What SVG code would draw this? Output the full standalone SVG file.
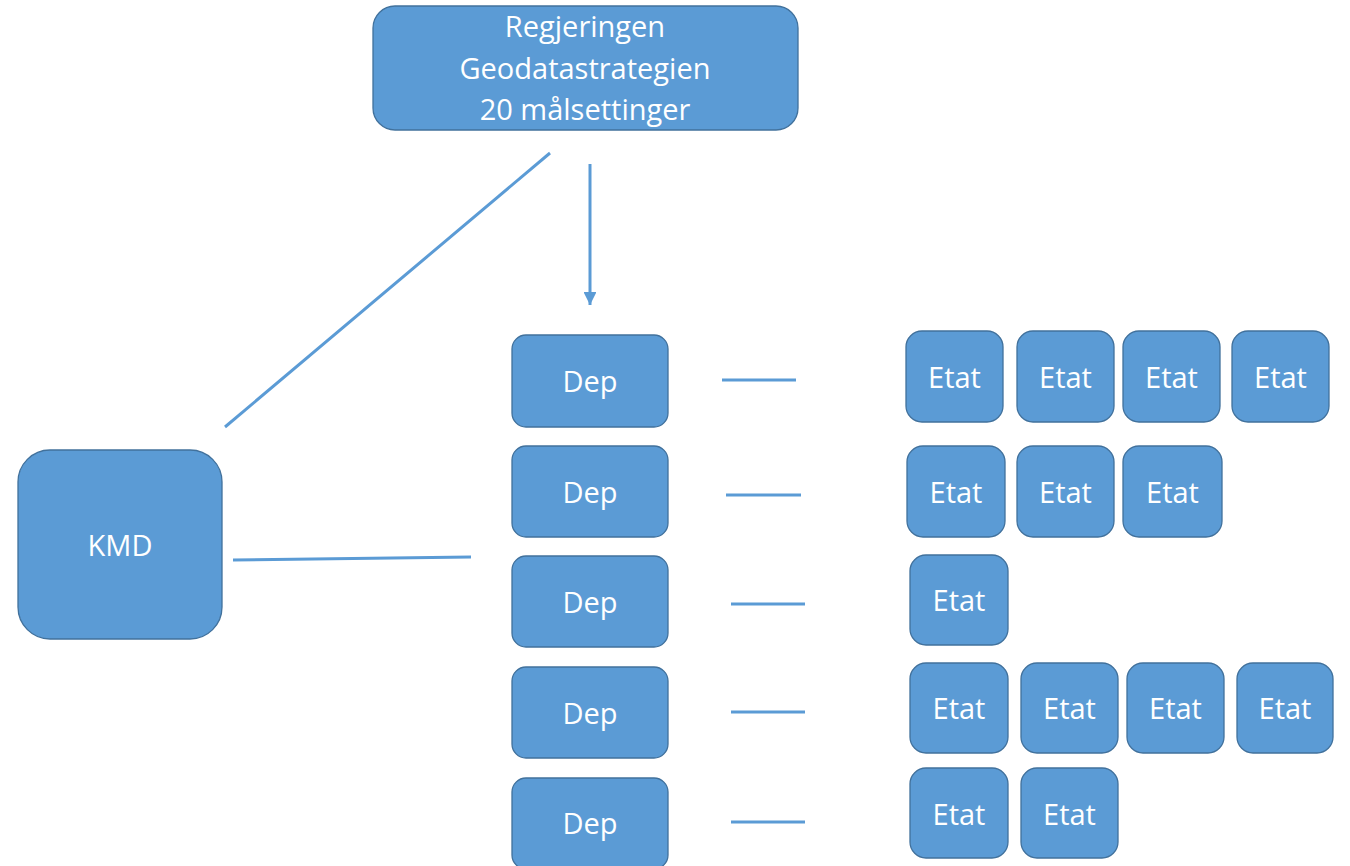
<svg xmlns="http://www.w3.org/2000/svg" width="1350" height="866" viewBox="0 0 1350 866">
<defs>
<style>
.box{fill:#5B9BD5;stroke:#41719C;stroke-width:1.3}
.t{font-family:"Open Sans",Lato,sans-serif;font-size:29px;fill:#ffffff;text-anchor:middle}
.ln{stroke:#5B9BD5;stroke-width:3;fill:none}
</style>
<marker id="ah" viewBox="0 0 10 10" refX="10" refY="5" markerWidth="4.3" markerHeight="4.3" orient="auto" markerUnits="strokeWidth">
<path d="M0,0 L10,5 L0,10 z" fill="#5B9BD5"/>
</marker>
</defs>
<rect width="1350" height="866" fill="#ffffff"/>
<g id="connectors">
<line class="ln" x1="590" y1="164" x2="590" y2="305" marker-end="url(#ah)"/>
<line class="ln" x1="550" y1="153" x2="225" y2="427"/>
<line class="ln" x1="233" y1="560" x2="471" y2="557"/>
<line class="ln" x1="722" y1="380" x2="796" y2="380"/>
<line class="ln" x1="726" y1="495" x2="801" y2="495"/>
<line class="ln" x1="731" y1="604" x2="805" y2="604"/>
<line class="ln" x1="731" y1="712" x2="805" y2="712"/>
<line class="ln" x1="731" y1="822" x2="805" y2="822"/>
</g>
<g id="regjeringen">
<rect class="box" x="373" y="6" width="425" height="124" rx="22"/>
<text class="t" x="585" y="37">Regjeringen</text>
<text class="t" x="585" y="79">Geodatastrategien</text>
<text class="t" x="585" y="120">20 målsettinger</text>
</g>
<g id="kmd">
<rect class="box" x="18" y="450" width="204" height="189" rx="32"/>
<text class="t" x="120" y="556">KMD</text>
</g>
<g id="dep1"><rect class="box" x="512" y="335" width="156" height="92" rx="14"/><text class="t" x="590" y="392">Dep</text></g>
<g id="dep2"><rect class="box" x="512" y="446" width="156" height="91" rx="14"/><text class="t" x="590" y="503">Dep</text></g>
<g id="dep3"><rect class="box" x="512" y="556" width="156" height="91" rx="14"/><text class="t" x="590" y="613">Dep</text></g>
<g id="dep4"><rect class="box" x="512" y="667" width="156" height="91" rx="14"/><text class="t" x="590" y="724">Dep</text></g>
<g id="dep5"><rect class="box" x="512" y="778" width="156" height="91" rx="14"/><text class="t" x="590" y="834">Dep</text></g>
<g id="etat1a"><rect class="box" x="906" y="331" width="97" height="91" rx="16"/><text class="t" x="954.5" y="388">Etat</text></g>
<g id="etat1b"><rect class="box" x="1017" y="331" width="97" height="91" rx="16"/><text class="t" x="1065.5" y="388">Etat</text></g>
<g id="etat1c"><rect class="box" x="1123" y="331" width="97" height="91" rx="16"/><text class="t" x="1171.5" y="388">Etat</text></g>
<g id="etat1d"><rect class="box" x="1232" y="331" width="97" height="91" rx="16"/><text class="t" x="1280.5" y="388">Etat</text></g>
<g id="etat2a"><rect class="box" x="907" y="446" width="98" height="91" rx="16"/><text class="t" x="956" y="503">Etat</text></g>
<g id="etat2b"><rect class="box" x="1017" y="446" width="97" height="91" rx="16"/><text class="t" x="1065.5" y="503">Etat</text></g>
<g id="etat2c"><rect class="box" x="1123" y="446" width="99" height="91" rx="16"/><text class="t" x="1172.5" y="503">Etat</text></g>
<g id="etat3a"><rect class="box" x="910" y="555" width="98" height="90" rx="16"/><text class="t" x="959" y="611">Etat</text></g>
<g id="etat4a"><rect class="box" x="910" y="663" width="98" height="90" rx="16"/><text class="t" x="959" y="719">Etat</text></g>
<g id="etat4b"><rect class="box" x="1021" y="663" width="97" height="90" rx="16"/><text class="t" x="1069.5" y="719">Etat</text></g>
<g id="etat4c"><rect class="box" x="1127" y="663" width="97" height="90" rx="16"/><text class="t" x="1175.5" y="719">Etat</text></g>
<g id="etat4d"><rect class="box" x="1237" y="663" width="96" height="90" rx="16"/><text class="t" x="1285" y="719">Etat</text></g>
<g id="etat5a"><rect class="box" x="910" y="768" width="98" height="90" rx="16"/><text class="t" x="959" y="825">Etat</text></g>
<g id="etat5b"><rect class="box" x="1021" y="768" width="97" height="90" rx="16"/><text class="t" x="1069.5" y="825">Etat</text></g>
</svg>
